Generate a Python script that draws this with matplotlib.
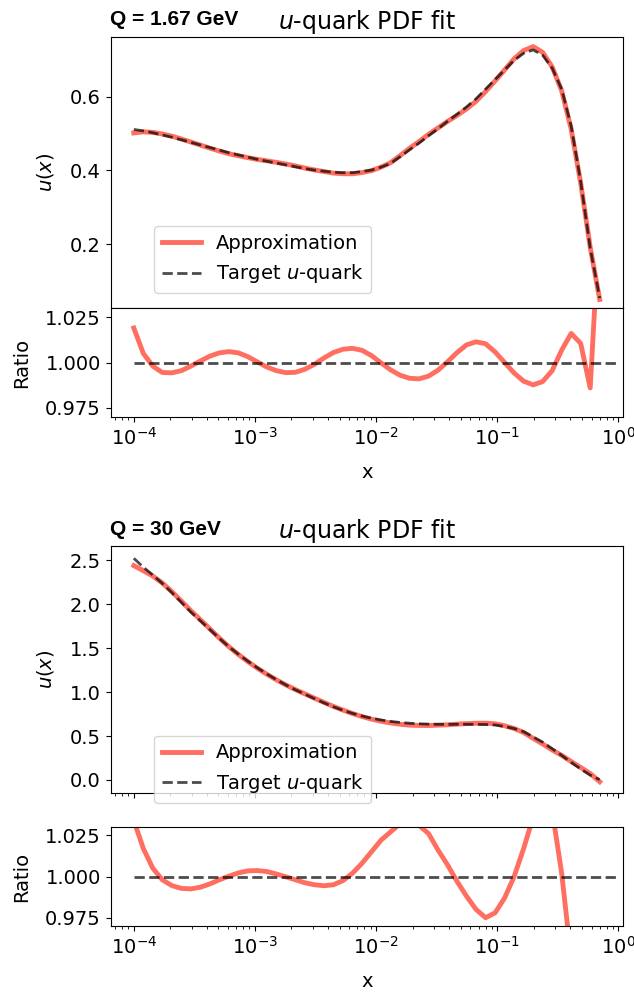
import numpy as np
import matplotlib
matplotlib.use("Agg")
import matplotlib.pyplot as plt

# ---------------- data ----------------
x_vals = [1.000e-4, 1.198e-4, 1.435e-4, 1.719e-4, 2.060e-4, 2.468e-4, 2.956e-4, 3.542e-4,
          4.243e-4, 5.083e-4, 6.089e-4, 7.296e-4, 8.741e-4, 1.047e-3, 1.255e-3, 1.503e-3,
          1.801e-3, 2.158e-3, 2.585e-3, 3.097e-3, 3.710e-3, 4.445e-3, 5.326e-3, 6.380e-3,
          7.644e-3, 9.158e-3, 1.097e-2, 1.314e-2, 1.575e-2, 1.887e-2, 2.260e-2, 2.708e-2,
          3.244e-2, 3.887e-2, 4.656e-2, 5.578e-2, 6.683e-2, 8.007e-2, 9.592e-2, 0.1149,
          0.1377, 0.1650, 0.1976, 0.2367, 0.2836, 0.3398, 0.4071, 0.4877, 0.5843, 0.7000]

# Q = 1.67 GeV
target_q1 = [0.511, 0.507, 0.502, 0.496, 0.490, 0.483, 0.476, 0.469,
             0.462, 0.455, 0.448, 0.442, 0.436, 0.430, 0.425, 0.420,
             0.415, 0.410, 0.405, 0.401, 0.398, 0.395, 0.394, 0.394,
             0.397, 0.401, 0.409, 0.419, 0.437, 0.456, 0.474, 0.494,
             0.513, 0.533, 0.552, 0.572, 0.594, 0.620, 0.646, 0.672,
             0.698, 0.717, 0.726, 0.712, 0.677, 0.620, 0.520, 0.370, 0.190, 0.055]
ratio_q1 = [1.019, 1.005, 0.998, 0.9945, 0.9943, 0.9955, 0.998, 1.0008,
            1.0035, 1.0053, 1.006, 1.0053, 1.0032, 1.0003, 0.9975, 0.9955,
            0.9944, 0.9946, 0.9963, 0.999, 1.0025, 1.0055, 1.0073, 1.0078,
            1.0067, 1.0038, 0.9998, 0.996, 0.993, 0.9913, 0.991, 0.9925,
            0.9958, 1.0004, 1.0055, 1.0097, 1.0114, 1.0103, 1.0058, 1.000,
            0.9942, 0.9897, 0.9877, 0.9895, 0.9955, 1.0068, 1.016, 1.0105, 0.986, 1.08]

# Q = 30 GeV
target_q2 = [2.52, 2.42, 2.33, 2.235, 2.13, 2.02, 1.91, 1.81,
             1.71, 1.61, 1.515, 1.43, 1.35, 1.275, 1.205, 1.14,
             1.08, 1.025, 0.975, 0.925, 0.877, 0.832, 0.792, 0.757,
             0.727, 0.702, 0.682, 0.666, 0.654, 0.645, 0.639, 0.635,
             0.633, 0.632, 0.633, 0.633, 0.632, 0.630, 0.625, 0.608,
             0.585, 0.549, 0.490, 0.430, 0.355, 0.280, 0.200, 0.125, 0.055, 0.004]
ratio_q2 = [1.034, 1.017, 1.005, 0.998, 0.9945, 0.9928, 0.9925, 0.9935,
            0.9955, 0.998, 1.0002, 1.0022, 1.0034, 1.0036, 1.003, 1.0015,
            0.9998, 0.998, 0.9962, 0.995, 0.9944, 0.995, 0.9975, 1.002,
            1.008, 1.015, 1.022, 1.027, 1.032, 1.035, 1.031, 1.026,
            1.016, 1.007, 0.997, 0.988, 0.980, 0.975, 0.978, 0.987,
            1.000, 1.017, 1.036, 1.050, 1.040, 1.002, 0.950, 0.880, 0.750, -0.20]

ref_x = [1.0e-4, 0.95]
ref_y = [1.0, 1.0]

panel_titles = ["Q = 1.67 GeV", "Q = 30 GeV"]
ylims_main = [(0.028, 0.761), (-0.148, 2.66)]
ratio_ticks = [0.975, 1.000, 1.025]
ratio_lim = (0.97, 1.03)

# ---------------- style ----------------
plt.rcParams['font.family'] = ['DejaVu Sans']
plt.rcParams['font.size'] = 14
plt.rcParams['mathtext.fontset'] = 'dejavusans'

approx_color = '#ff6f61'
W, H = 634, 992
fig = plt.figure(figsize=(W / 100, H / 100), dpi=100)

def fr(left, top, right, bottom):
    return [left / W, 1 - bottom / H, (right - left) / W, (bottom - top) / H]

layouts = [
    (fr(110.5, 37, 623, 308), fr(110.5, 308, 623, 417), (0.085, 0.055)),
    (fr(110.5, 546, 623, 793), fr(110.5, 827, 623, 926), (0.085, -0.04)),
]

x = np.array(x_vals)
lx = np.log10(x)
span = lx.max() - lx.min()
xlim = (10 ** (lx.min() - 0.05 * span), 10 ** (lx.max() + 0.05 * span))

for (rect_main, rect_ratio, leg_anchor), tgt, rat, qtxt, ylm in zip(
        layouts, [target_q1, target_q2], [ratio_q1, ratio_q2], panel_titles, ylims_main):
    tgt = np.array(tgt)
    rat = np.array(rat)
    approx = tgt / rat

    ax = fig.add_axes(rect_main)
    ax.plot(x, approx, color=approx_color, lw=3.5, label='Approximation')
    ax.plot(x, tgt, color='k', alpha=0.7, lw=2, ls='--', label=r'Target $u$-quark')
    ax.set_xscale('log')
    ax.set_xlim(xlim)
    ax.set_ylim(ylm)
    ax.tick_params(axis='x', which='both', labelbottom=False)
    ax.set_ylabel(r'$u(x)$', labelpad=10)
    ax.set_title(r'$u$-quark PDF fit', fontsize=17)
    ax.text(0.0, 1.03, qtxt, transform=ax.transAxes, ha='left', va='bottom',
            fontsize=15, fontweight='bold', family=['Liberation Sans', 'DejaVu Sans'])
    ax.legend(loc='lower left', bbox_to_anchor=leg_anchor, borderaxespad=0, fontsize=14)

    axr = fig.add_axes(rect_ratio)
    axr.plot(x, rat, color=approx_color, lw=3.5)
    axr.plot(ref_x, ref_y, color='k', alpha=0.7, lw=2, ls='--')
    axr.set_xscale('log')
    axr.set_xlim(xlim)
    axr.set_ylim(ratio_lim)
    axr.set_yticks(ratio_ticks)
    axr.set_yticklabels([f"{v:.3f}" for v in ratio_ticks])
    axr.set_ylabel('Ratio', labelpad=10)
    axr.set_xlabel('x', labelpad=10)

fig.savefig('out.png', dpi=100)
